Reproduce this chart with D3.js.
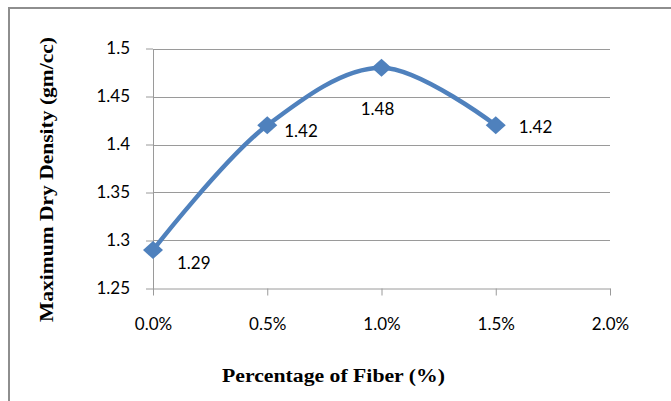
<!DOCTYPE html>
<html><head><meta charset="utf-8">
<script src="https://cdn.jsdelivr.net/npm/d3@7"></script>
<style>body{margin:0;background:#fff}svg{display:block}</style>
</head><body>
<svg id="chart" width="671" height="401"></svg>
<script>
const fiber = [0.0, 0.5, 1.0, 1.5];
const density = [1.29, 1.42, 1.48, 1.42];
const labels = ["1.29", "1.42", "1.48", "1.42"];
const xTicks = [0.0, 0.5, 1.0, 1.5, 2.0];
const xTickLabels = ["0.0%", "0.5%", "1.0%", "1.5%", "2.0%"];
const yTicks = [1.25, 1.3, 1.35, 1.4, 1.45, 1.5];
const yTickLabels = ["1.25", "1.3", "1.35", "1.4", "1.45", "1.5"];
const labelSpots = ["belowRight", "right", "below", "farRight"];

const svg = d3.select("#chart");
const x = d3.scaleLinear().domain([0, 2]).range([153, 610]);
const y = d3.scaleLinear().domain([1.25, 1.5]).range([288.5, 48.5]);
const tickFont = "Lato, 'Open Sans', sans-serif";
const blue = "#4F81BD";

// frame
svg.append("rect").attr("x", 9).attr("y", 8).attr("width", 700).attr("height", 420)
  .attr("fill", "none").attr("stroke", "#8e8e8e").attr("stroke-width", 2);

// gridlines
svg.append("g").selectAll("line").data(yTicks.slice(1)).join("line")
  .attr("x1", x(0)).attr("x2", x(2))
  .attr("y1", d => Math.round(y(d)) + 0.5).attr("y2", d => Math.round(y(d)) + 0.5)
  .attr("stroke", "#9a9a9a").attr("stroke-width", 1);

// y axis
const yAxis = d3.axisLeft(y).tickValues(yTicks).tickSize(7).tickSizeOuter(0)
  .tickFormat((d, i) => yTickLabels[i]).tickPadding(16);
const gy = svg.append("g").attr("transform", `translate(${x(0)},0)`).call(yAxis);
gy.selectAll("path,line").attr("stroke", "#9a9a9a");
gy.selectAll("text").attr("font-family", tickFont).attr("font-size", 17).attr("fill", "#000");

// x axis
const xAxis = d3.axisBottom(x).tickValues(xTicks).tickSize(7).tickSizeOuter(0)
  .tickFormat((d, i) => xTickLabels[i]).tickPadding(22);
const gx = svg.append("g").attr("transform", `translate(0,${y(1.25)})`).call(xAxis);
gx.selectAll("path,line").attr("stroke", "#9a9a9a");
gx.selectAll("text").attr("font-family", tickFont).attr("font-size", 17).attr("fill", "#000");

// line
const pts = fiber.map((f, i) => [f, density[i]]);
const line = d3.line().x(d => x(d[0])).y(d => y(d[1])).curve(d3.curveCatmullRom.alpha(0.5));
svg.append("path").datum(pts).attr("d", line).attr("fill", "none")
  .attr("stroke", blue).attr("stroke-width", 4.5).attr("stroke-linejoin", "round");

// markers (diamonds)
svg.append("g").selectAll("path").data(pts).join("path")
  .attr("d", d => {
    const cx = x(d[0]), cy = y(d[1]), w = 10, h = 9;
    return `M${cx},${cy - h}L${cx + w},${cy}L${cx},${cy + h}L${cx - w},${cy}Z`;
  })
  .attr("fill", blue);

// data labels
const dxBy = {belowRight: 24, right: 17, farRight: 23, below: -4};
const dyBy = {belowRight: 19, right: 12, farRight: 8, below: 47};
svg.append("g").selectAll("text").data(pts).join("text")
  .attr("x", (d, i) => x(d[0]) + dxBy[labelSpots[i]])
  .attr("y", (d, i) => y(d[1]) + dyBy[labelSpots[i]])
  .attr("text-anchor", (d, i) => labelSpots[i] === "below" ? "middle" : "start")
  .attr("font-family", tickFont).attr("font-size", 17).attr("fill", "#000")
  .text((d, i) => labels[i]);

// axis titles
svg.append("text").attr("x", 333.5).attr("y", 382).attr("text-anchor", "middle")
  .attr("font-family", "'Liberation Serif', 'Times New Roman', serif").attr("font-weight", "bold")
  .attr("font-size", 18).attr("textLength", 223).attr("lengthAdjust", "spacingAndGlyphs")
  .text("Percentage of Fiber (%)");
svg.append("text").attr("transform", "translate(53,179.5) rotate(-90)").attr("text-anchor", "middle")
  .attr("font-family", "'Liberation Serif', 'Times New Roman', serif").attr("font-weight", "bold")
  .attr("font-size", 18).attr("textLength", 285).attr("lengthAdjust", "spacingAndGlyphs")
  .text("Maximum Dry Density (gm/cc)");
</script>
</body></html>
